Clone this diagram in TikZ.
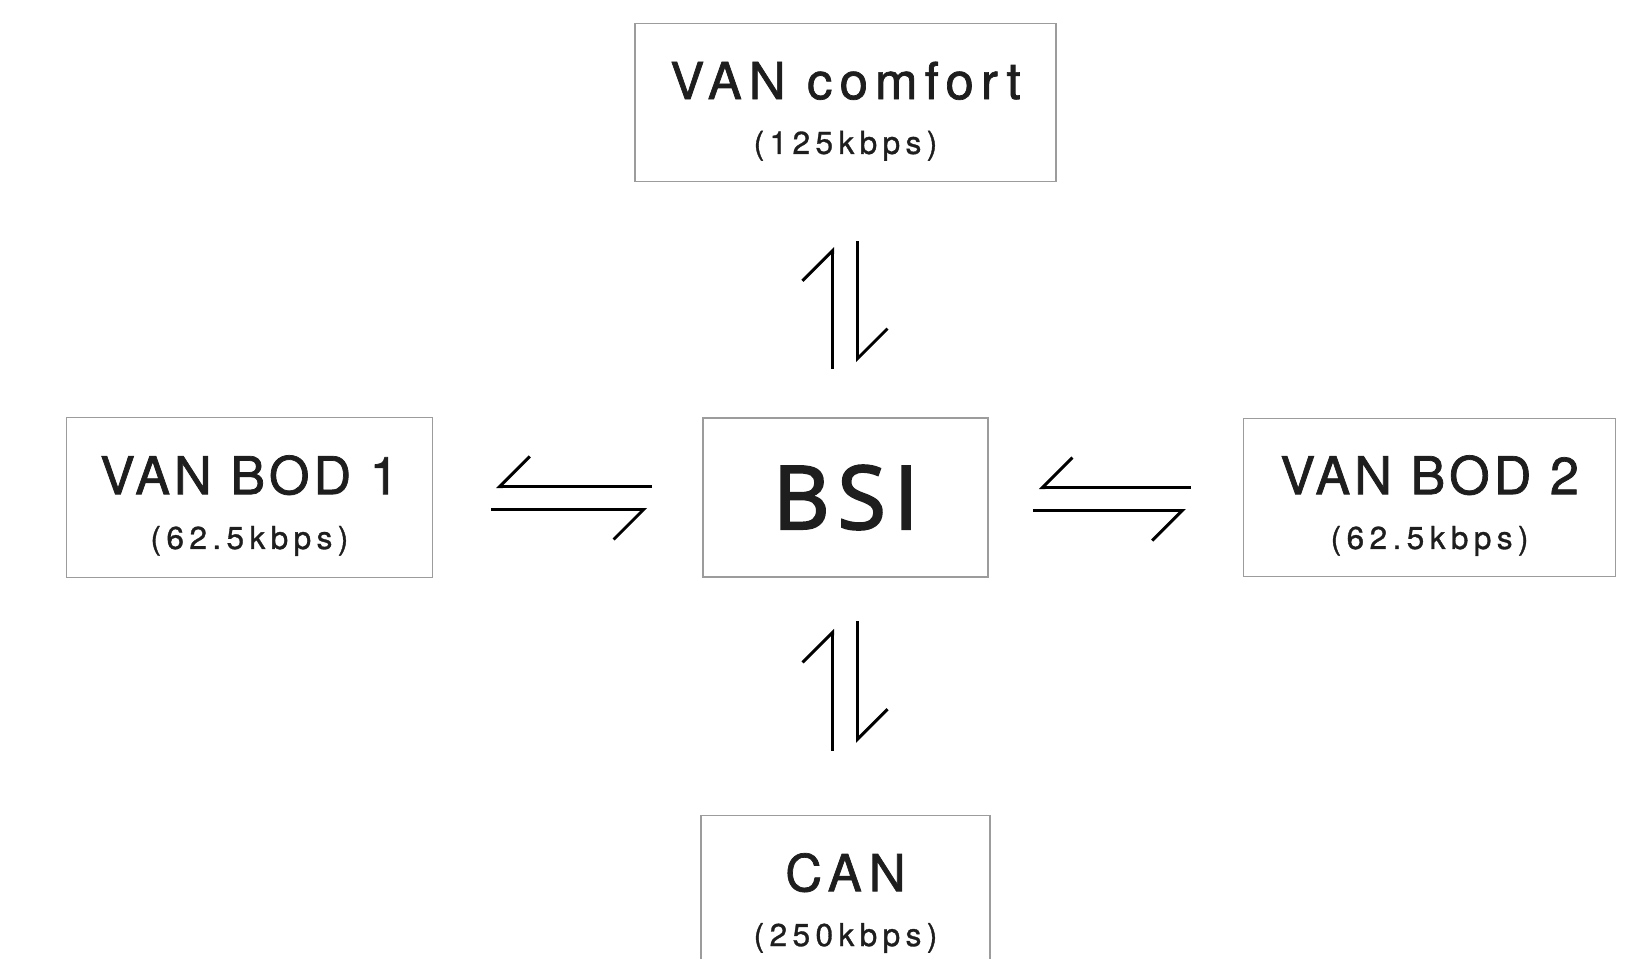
\documentclass[tikz,border=0pt]{standalone}
\usepackage{fontspec}
\setmainfont{TeX Gyre Heros}
\newfontfamily\titlefont{TeX Gyre Heros}[LetterSpace=14, FakeBold=1.4]
\newfontfamily\bodfont{TeX Gyre Heros}[LetterSpace=8, FakeBold=1.4]
\newfontfamily\ratefont{TeX Gyre Heros}[LetterSpace=17, FakeBold=1]
\newfontfamily\bsifont{Open Sans}[LetterSpace=9, FakeBold=2.5]
\usepackage{tikz}
\usetikzlibrary{positioning, arrows.meta}
\usepackage{xcolor}
\definecolor{boxgray}{HTML}{9C9C9C}
\definecolor{ink}{HTML}{1E1E1E}

\begin{document}
\begin{tikzpicture}[line width=0.85pt,
    box/.style={rectangle, draw=boxgray, line width=0.45pt, inner sep=0pt, align=center, text=ink,
      font=\titlefont\fontsize{14.5}{15.6}\selectfont},
    harpl/.style={-{Straight Barb[left, length=0.3cm, width=0.6cm]}},
    harpr/.style={-{Straight Barb[right, length=0.3cm, width=0.6cm]}}]
        \useasboundingbox (0,0) rectangle (16.43,-9.58);
        \node[box, minimum width=2.85cm, minimum height=1.59cm, font=\bsifont\fontsize{25}{30}\selectfont] (bsi) at (8.455,-4.975) {BSI};
        \node[box, minimum width=4.21cm, minimum height=1.58cm, above=2.35cm of bsi] (comfort) {\rule{0pt}{0.55cm}VAN comfort\\{\ratefont\fontsize{9}{11}\selectfont (125kbps)}};
        \node[box, minimum width=3.66cm, minimum height=1.6cm, left=2.69cm of bsi, font=\bodfont\fontsize{14.8}{15.6}\selectfont] (bod1) {\rule{0pt}{0.55cm}VAN BOD 1\\{\ratefont\fontsize{9}{11}\selectfont (62.5kbps)}};
        \node[box, minimum width=3.72cm, minimum height=1.58cm, right=2.54cm of bsi, font=\bodfont\fontsize{14.8}{15.6}\selectfont] (bod2) {\rule{0pt}{0.55cm}VAN BOD 2\\{\ratefont\fontsize{9}{11}\selectfont (62.5kbps)}};
        \node[box, minimum width=2.89cm, minimum height=1.58cm, below=2.37cm of bsi] (can) {\rule{0pt}{0.55cm}CAN\\{\ratefont\fontsize{9}{11}\selectfont (250kbps)}};
        % BSI <-> VAN comfort
        \draw[harpl, shorten <=0.48cm, shorten >=0.65cm] ([xshift=-0.13cm]bsi.north) -- ([xshift=-0.13cm]comfort.south);
        \draw[harpl, shorten <=0.59cm, shorten >=0.55cm] ([xshift=0.12cm]comfort.south) -- ([xshift=0.12cm]bsi.north);
        % BSI <-> CAN
        \draw[harpl, shorten <=0.64cm, shorten >=0.51cm] ([xshift=-0.13cm]can.north) -- ([xshift=-0.13cm]bsi.south);
        \draw[harpl, shorten <=0.43cm, shorten >=0.72cm] ([xshift=0.12cm]bsi.south) -- ([xshift=0.12cm]can.north);
        % BSI <-> VAN BOD 1
        \draw[harpr, shorten <=0.50cm, shorten >=0.63cm] ([yshift=0.11cm]bsi.west) -- ([yshift=0.11cm]bod1.east);
        \draw[harpr, shorten <=0.58cm, shorten >=0.55cm] ([yshift=-0.12cm]bod1.east) -- ([yshift=-0.12cm]bsi.west);
        % BSI <-> VAN BOD 2
        \draw[harpr, shorten <=0.52cm, shorten >=0.50cm] ([yshift=0.1cm]bod2.west) -- ([yshift=0.1cm]bsi.east);
        \draw[harpr, shorten <=0.44cm, shorten >=0.57cm] ([yshift=-0.13cm]bsi.east) -- ([yshift=-0.13cm]bod2.west);
\end{tikzpicture}
\end{document}
